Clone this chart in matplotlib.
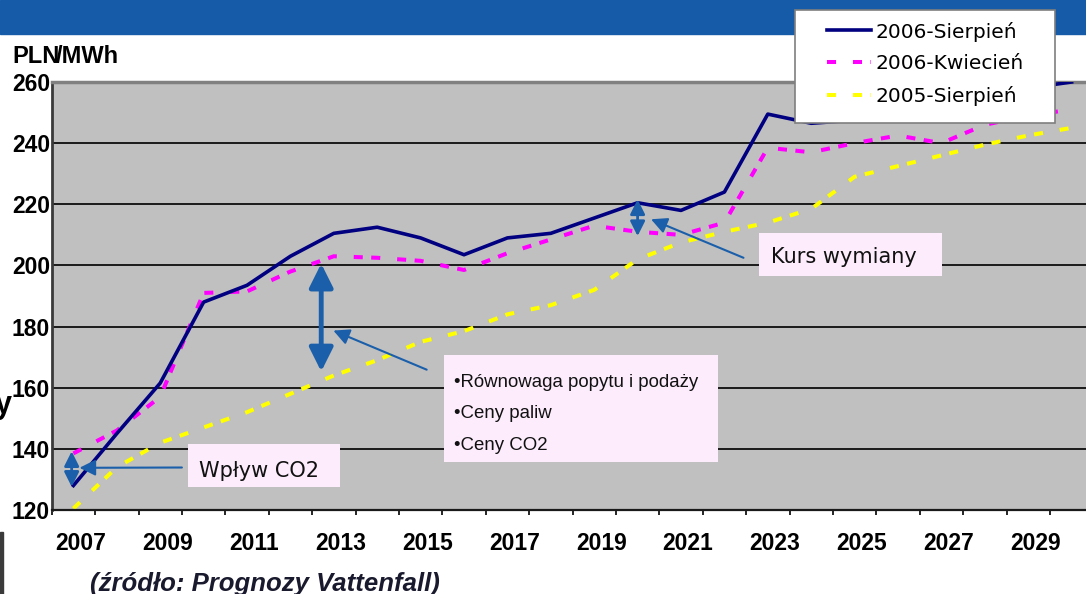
import numpy as np
import matplotlib
matplotlib.use('Agg')
import matplotlib.pyplot as plt
from matplotlib.patches import Rectangle
from matplotlib.transforms import ScaledTranslation

years = list(range(2007, 2031))
sierpien_2006 = [128, 145, 161.5, 188, 193.5, 203, 210.5, 212.5, 209, 203.5, 209, 210.5,
                 215.5, 220.5, 218, 224, 249.5, 246.5, 247.5, 250, 252, 254.5, 258, 260]
kwiecien_2006 = [138.5, 146, 157, 191, 191.5, 198, 203, 202.5, 201.5, 198.5, 204, 208.5,
                 213, 211, 210, 214, 238.5, 237, 240, 242.5, 240, 246, 249, 251]
sierpien_2005 = [120.5, 134, 142, 147, 152, 158, 164, 169, 175, 178.5, 184, 187,
                 192, 202, 207.5, 211, 214, 218.5, 229, 232.5, 236, 239.5, 242.5, 245]
labels = ['2006-Sierpień', '2006-Kwiecień', '2005-Sierpień']
year_ticks = list(range(2007, 2030, 2))
y_ticks = list(range(120, 261, 20))
factors = ['•Równowaga popytu i podaży', '•Ceny paliw', '•Ceny CO2']

plt.rcParams['lines.scale_dashes'] = False

W, H = 1086, 594
def fx(px):
    return px / W
def fy(py):
    return 1 - py / H

fig = plt.figure(figsize=(10.86, 5.94), dpi=100)
fig.patch.set_facecolor('white')

# blue title band (cut off on the slide)
fig.patches.append(Rectangle((0, fy(33.5)), 1, 33.5 / H, transform=fig.transFigure,
                             color='#155BA8', zorder=0))
fig.patches.append(Rectangle((0, fy(594)), fx(3), 62 / H, transform=fig.transFigure,
                             color='#3a3a3a', zorder=0))

ax = fig.add_axes([fx(51.7), fy(510), (1093.3 - 51.7) / W, (510 - 82) / H])
ax.set_facecolor('#C0C0C0')
ax.set_xlim(2006.5, 2030.5)
ax.set_ylim(120, 260)

dash = (0, (6.5, 12.2, 6.5, 6.1))
l3, = ax.plot(years, sierpien_2005, color='#FFFF00', lw=2.9, ls=dash,
              dash_capstyle='butt', zorder=2)
l2, = ax.plot(years, kwiecien_2006, color='#FF00FF', lw=2.9, ls=dash,
              dash_capstyle='butt', zorder=3)
l1, = ax.plot(years, sierpien_2006, color='#000080', lw=2.6, zorder=4)

ax.set_yticks(y_ticks)
ax.yaxis.grid(True, color='#1a1a1a', lw=1.4)
ax.set_axisbelow(True)
ax.set_xticks(year_ticks)
ax.set_xticklabels([str(y) for y in year_ticks])
ax.set_xticks(np.arange(2006.5, 2031, 1), minor=True)
ax.tick_params(axis='x', which='major', length=0, pad=15.5)
ax.tick_params(axis='x', which='minor', length=3.6, width=1.2, direction='out')
ax.tick_params(axis='y', length=0, pad=1.2)
for lab in ax.get_xticklabels() + ax.get_yticklabels():
    lab.set_fontfamily('Liberation Sans')
    lab.set_fontweight('bold')
    lab.set_fontsize(16.5)
for lab in ax.get_xticklabels():
    lab.set_transform(lab.get_transform() + ScaledTranslation(0.07, 0, fig.dpi_scale_trans))

ax.spines['right'].set_visible(False)
ax.spines['top'].set_color('#808080')
ax.spines['top'].set_linewidth(2.5)
ax.spines['left'].set_color('#3a3a3a')
ax.spines['left'].set_linewidth(2)
ax.spines['bottom'].set_color('#1a1a1a')
ax.spines['bottom'].set_linewidth(1.6)

# annotation boxes
box_c = '#FCECFC'
txt_c = '#111111'
ax.add_patch(Rectangle((2022.80, 196.5), 4.21, 14.2, fc=box_c, ec='none', zorder=6))
ax.text(2023.07, 200.7, 'Kurs wymiany', fontsize=15, color=txt_c, va='baseline', zorder=7)

ax.add_patch(Rectangle((2009.65, 127.4), 3.5, 14.2, fc=box_c, ec='none', zorder=6))
ax.text(2009.9, 130.9, 'Wpływ CO2', fontsize=15, color=txt_c, va='baseline', zorder=7)

ax.add_patch(Rectangle((2015.53, 135.8), 6.33, 35.0, fc=box_c, ec='none', zorder=6))
for yb, t in zip([160.2, 150.1, 139.7], factors):
    ax.text(2015.76, yb, t, family='Liberation Sans', fontsize=13.4, color=txt_c,
            va='baseline', zorder=7)

# arrows
arr_c = '#1B5FAA'
ax.annotate('', xy=(2012.71, 200.6), xytext=(2012.71, 165.3),
            arrowprops=dict(arrowstyle='<|-|>', color=arr_c, lw=3.5, mutation_scale=36,
                            shrinkA=0, shrinkB=0), zorder=8)
ax.annotate('', xy=(2012.99, 178.7), xytext=(2015.14, 165.9),
            arrowprops=dict(arrowstyle='-|>', color=arr_c, lw=1.5, mutation_scale=24,
                            shrinkA=0, shrinkB=0), zorder=8)
ax.annotate('', xy=(2006.96, 139.2), xytext=(2006.96, 127.6),
            arrowprops=dict(arrowstyle='<|-|>', color=arr_c, lw=2, mutation_scale=22,
                            shrinkA=0, shrinkB=0), zorder=8)
ax.annotate('', xy=(2007.14, 133.8), xytext=(2009.5, 133.9),
            arrowprops=dict(arrowstyle='-|>', color=arr_c, lw=1.5, mutation_scale=24,
                            shrinkA=0, shrinkB=0), zorder=8)
ax.annotate('', xy=(2020.0, 221.6), xytext=(2020.0, 209.6),
            arrowprops=dict(arrowstyle='<|-|>', color=arr_c, lw=2, mutation_scale=22,
                            shrinkA=0, shrinkB=0), zorder=8)
ax.annotate('', xy=(2020.31, 215.1), xytext=(2022.44, 202.5),
            arrowprops=dict(arrowstyle='-|>', color=arr_c, lw=1.5, mutation_scale=24,
                            shrinkA=0, shrinkB=0), zorder=8)

# legend with its own frame
fig.patches.append(Rectangle((fx(795), fy(122.7)), (1055.3 - 795) / W, (122.7 - 10) / H,
                             transform=fig.transFigure, fc='white', ec='#7f7f7f', lw=1.2,
                             zorder=4.9))
fig.legend([l1, l2, l3], labels, loc='upper left', bbox_to_anchor=(fx(826.7), fy(21.5)),
           frameon=False, borderaxespad=0, borderpad=0, handlelength=2.19,
           handletextpad=0.25, labelspacing=0.64, fontsize=14.5)

fig.text(fx(12.7), fy(62.7), 'PLN', family='Liberation Sans', weight='bold', fontsize=17,
         va='baseline')
fig.text(fx(56), fy(62.7), '/MWh', family='Liberation Sans', weight='bold', fontsize=17,
         va='baseline')
fig.text(fx(90), fy(591), '(źródło: Prognozy Vattenfall)', family='Liberation Sans',
         weight='bold', style='italic', fontsize=18.5, color='#1a1a2e', va='baseline')
fig.text(fx(-5), fy(413), 'y', family='Liberation Sans', weight='bold', fontsize=22,
         va='baseline')

fig.savefig('out.png', dpi=100)
